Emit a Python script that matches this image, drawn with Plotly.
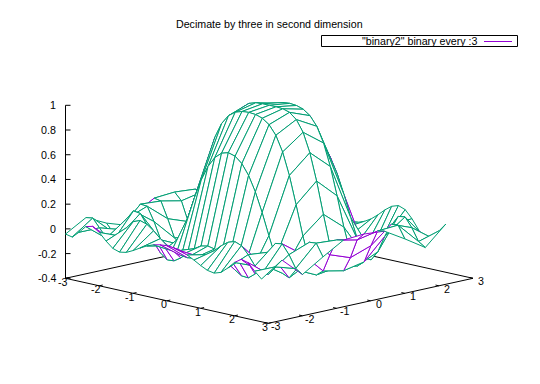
import plotly.graph_objects as go

TITLE = "Decimate by three in second dimension"
LEGEND_LABEL = '"binary2" binary every :3'
x_values = [-3.0, -2.8, -2.6, -2.4, -2.2, -2.0, -1.8, -1.6, -1.4, -1.2, -1.0, -0.8, -0.6, -0.4, -0.2,
            0.0, 0.2, 0.4, 0.6, 0.8, 1.0, 1.2, 1.4, 1.6, 1.8, 2.0, 2.2, 2.4, 2.6, 2.8]
y_values = [-3.0, -2.4, -1.8, -1.2, -0.6, 0.0, 0.6, 1.2, 1.8, 2.4]
row_y0 = [-.042, -.054, -.003, .055, .069, .032, -.026, -.073, -.091, -.081, -.054, -.022, .007, .029, .041,
          .046, .041, .029, .007, -.022, -.054, -.081, -.091, -.073, -.026, .032, .069, .055, -.003, -.054]
row_y1 = [.055, .063, -.004, -.075, -.087, -.034, .046, .107, .128, .110, .069, .018, -.027, -.060, -.080,
          -.087, -.080, -.060, -.027, .018, .069, .110, .128, .107, .046, -.034, -.087, -.075, -.004, .063]
row_y2 = [-.026, -.090, -.054, .046, .121, .113, .030, -.080, -.170, -.214, -.210, -.174, -.123, -.075, -.042,
          -.030, -.042, -.075, -.123, -.174, -.210, -.214, -.170, -.080, .030, .113, .121, .046, -.054, -.090]
row_y3 = [-.081, .016, .115, .110, -.001, -.137, -.214, -.189, -.075, .090, .265, .420, .541, .625, .673,
          .689, .673, .625, .541, .420, .265, .090, -.075, -.189, -.214, -.137, -.001, .110, .115, .016]
row_y4 = [.007, .115, .104, -.027, -.170, -.215, -.123, .075, .316, .541, .719, .842, .916, .956, .974,
          .979, .974, .956, .916, .842, .719, .541, .316, .075, -.123, -.215, -.170, -.027, .104, .115]
row_y5 = [.046, .128, .069, -.087, -.205, -.189, -.030, .215, .472, .689, .842, .933, .979, .996, 1.0,
          1.0, 1.0, .996, .979, .933, .842, .689, .472, .215, -.030, -.189, -.205, -.087, .069, .128]
z_rows = [row_y0, row_y1, row_y2, row_y3, row_y4, row_y5, row_y4, row_y3, row_y2, row_y1]
axis_ticks = [-3, -2, -1, 0, 1, 2, 3]
z_ticks = [-0.4, -0.2, 0, 0.2, 0.4, 0.6, 0.8, 1]
z_tick_labels = ["-0.4", "-0.2", "0", "0.2", "0.4", "0.6", "0.8", "1"]

TOP = "#009e73"
UNDER = "#9400d3"
FONT = dict(family="Liberation Sans, Arial, sans-serif", size=10.67, color="#000000")


def project(x, y, z=-0.4):
    """gnuplot's set view 60,30 as a screen transform."""
    u, v = (x + 3) / 6, (y + 3) / 6
    return (65.5 + u * 202.8 + v * 204.7,
            278.3 + (u - v) * 45 - (z + 0.4) / 1.4 * 173)


fig = go.Figure()


def line(xs, ys, color="#000000", width=1):
    fig.add_trace(go.Scatter(x=xs, y=ys, mode="lines", hoverinfo="skip", showlegend=False,
                             line=dict(color=color, width=width)))


# base frame and z axis
corners = [project(-3, -3), project(3, -3), project(3, 3), project(-3, 3), project(-3, -3)]
line([c[0] for c in corners], [c[1] for c in corners])
zbot, ztop = project(-3, -3, -0.4), project(-3, -3, 1)
line([zbot[0], ztop[0]], [zbot[1], ztop[1]])
for t in z_ticks:
    p = project(-3, -3, t)
    line([p[0], p[0] + 5], [p[1], p[1]])
for t in axis_ticks:
    a, b = project(t, -3), project(t, -2.9)
    line([a[0], b[0]], [a[1], b[1]])
    a, b = project(3, t), project(2.9, t)
    line([a[0], b[0]], [a[1], b[1]])

# which way each quad of the mesh faces
nx, ny = len(x_values) - 1, len(y_values) - 1
faces_up = {}
for j in range(ny):
    for i in range(nx):
        idx = [(i, j), (i + 1, j), (i + 1, j + 1), (i, j + 1), (i, j)]
        pts = [project(x_values[a], y_values[b], z_rows[b][a]) for a, b in idx]
        faces_up[i, j] = sum(pts[k][0] * pts[k + 1][1] - pts[k + 1][0] * pts[k][1] for k in range(4)) < 0


def edge_is_top(i, j, side):
    """An edge takes the upper-side colour if either of the quads sharing it shows its upper side."""
    other = {0: (i, j - 1), 1: (i + 1, j), 2: (i, j + 1), 3: (i - 1, j)}[side]
    return faces_up[i, j] or faces_up.get(other, False)


# surface, painted from the back corner forward with opaque quads
for j in range(ny - 1, -1, -1):
    for i in range(nx):
        idx = [(i, j), (i + 1, j), (i + 1, j + 1), (i, j + 1), (i, j)]
        pts = [project(x_values[a], y_values[b], z_rows[b][a]) for a, b in idx]
        fig.add_trace(go.Scatter(x=[p[0] for p in pts], y=[p[1] for p in pts], mode="none",
                                 fill="toself", fillcolor="#ffffff", hoverinfo="skip", showlegend=False))
        groups = {True: ([], []), False: ([], [])}
        for side in range(4):
            gx, gy = groups[edge_is_top(i, j, side)]
            gx += [pts[side][0], pts[side + 1][0], None]
            gy += [pts[side][1], pts[side + 1][1], None]
        for is_top in (False, True):
            gx, gy = groups[is_top]
            if gx:
                line(gx, gy, TOP if is_top else UNDER)

annotations = []


def label(x, y, text, anchor="center"):
    annotations.append(dict(x=x, y=y, text=text, showarrow=False, xanchor=anchor, yanchor="middle",
                            font=FONT, xref="x", yref="y"))


for t, s in zip(z_ticks, z_tick_labels):
    label(58, project(-3, -3, t)[1], s, "right")
for t in axis_ticks:
    p = project(t, -3)
    label(p[0] - 3, p[1] + 3.5, str(t))
    p = project(3, t)
    label(p[0] + 8, p[1] + 3, str(t))
label(269.5, 24, TITLE)
label(419, 41, LEGEND_LABEL)

# key box and sample
line([321.5, 517.5, 517.5, 321.5, 321.5], [35.5, 35.5, 46.5, 46.5, 35.5])
line([484, 512], [41.5, 41.5], UNDER)

fig.update_layout(width=540, height=384, margin=dict(l=0, r=0, t=0, b=0), autosize=False,
                  paper_bgcolor="#ffffff", plot_bgcolor="#ffffff", showlegend=False,
                  annotations=annotations,
                  xaxis=dict(range=[0, 540], visible=False, fixedrange=True),
                  yaxis=dict(range=[384, 0], visible=False, fixedrange=True))
fig.write_html("out.html", config=dict(displayModeBar=False),
               post_script="document.body.style.margin='0';document.body.style.overflow='hidden';")
